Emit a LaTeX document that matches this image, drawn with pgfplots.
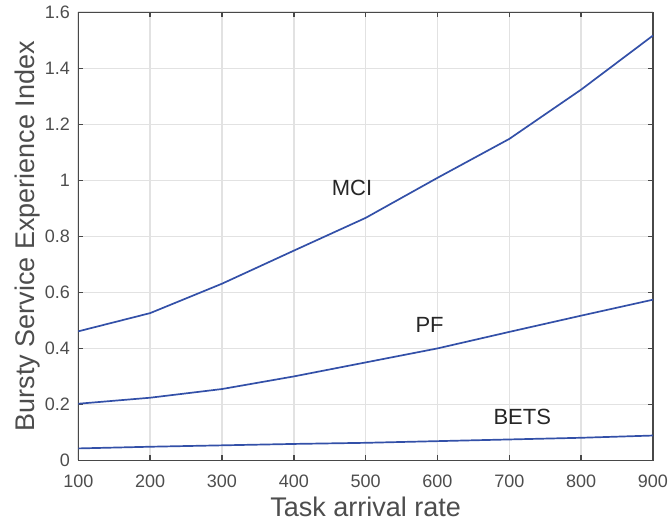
\documentclass[border=0pt]{standalone}
\usepackage{pgfplots}
\pgfplotsset{compat=1.18}
\usepackage{fontspec}
\setmainfont{Liberation Sans}
\definecolor{lineblue}{RGB}{51,80,168}
\definecolor{axgray}{RGB}{72,72,72}
\definecolor{tickgray}{RGB}{77,77,77}
\definecolor{gridgray}{RGB}{226,226,226}
\begin{document}
\begin{tikzpicture}
\begin{axis}[
  scale only axis,
  width=575pt, height=448.4pt,
  xmin=100, xmax=900, ymin=0, ymax=1.6,
  xtick={100,200,...,900},
  ytick={0,0.2,0.4,0.6,0.8,1,1.2,1.4,1.6},
  yticklabels={0,0.2,0.4,0.6,0.8,1,1.2,1.4,1.6},
  /pgf/number format/assume math mode=true,
  grid=major,
  major grid style={gridgray, line width=1.6pt},
  axis line style={axgray, line width=1.5pt},
  tick style={axgray, line width=1.5pt},
  major tick length=5pt,
  tick align=inside,
  xtick pos=both, ytick pos=both,
  ticklabel style={font=\fontsize{18}{18}\selectfont, text=tickgray, inner sep=0pt},
  xticklabel style={anchor=base, yshift=-27.3pt},
  yticklabel style={anchor=east, xshift=-8.3pt},
  xlabel={Task arrival rate},
  ylabel={Bursty Service Experience Index},
  label style={font=\fontsize{27}{27}\selectfont, text=tickgray, inner sep=0pt},
  xlabel style={at={(axis description cs:0.5,-0.1256)}, anchor=base},
  ylabel style={at={(axis description cs:-0.077,0.5)}, anchor=base},
  clip=false,
]
\path (axis description cs:-0.1362,1.0274) rectangle (axis description cs:1.0256,-0.1434);
\addplot[lineblue, line width=1.7pt] coordinates {
(100,0.461) (200,0.526) (300,0.631) (400,0.749) (500,0.866) (600,1.009) (700,1.148) (800,1.324) (900,1.517)};
\addplot[lineblue, line width=1.7pt] coordinates {
(100,0.2025) (200,0.224) (300,0.255) (400,0.300) (500,0.350) (600,0.400) (700,0.459) (800,0.517) (900,0.574)};
\addplot[lineblue, line width=1.7pt] coordinates {
(100,0.043) (200,0.049) (300,0.054) (400,0.059) (500,0.063) (600,0.069) (700,0.075) (800,0.081) (900,0.089)};
\node[font=\fontsize{22}{22}\selectfont, text=black!85] at (axis cs:481,0.974) {MCI};
\node[font=\fontsize{22}{22}\selectfont, text=black!85] at (axis cs:589,0.485) {PF};
\node[font=\fontsize{22}{22}\selectfont, text=black!85] at (axis cs:718,0.156) {BETS};
\end{axis}
\end{tikzpicture}
\end{document}
